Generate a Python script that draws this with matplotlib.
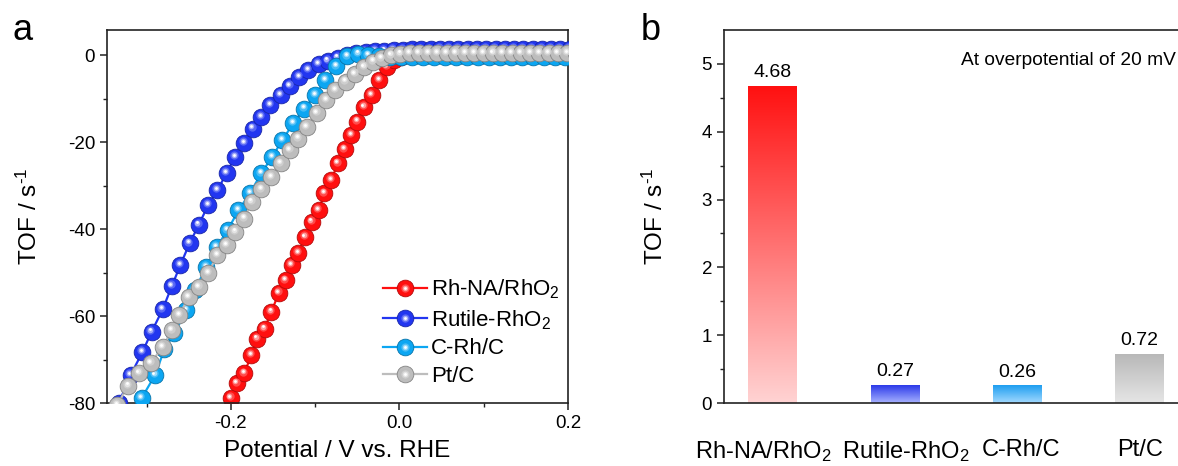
import numpy as np
import matplotlib
matplotlib.use("Agg")
import matplotlib.pyplot as plt
from matplotlib.lines import Line2D
from matplotlib.legend_handler import HandlerTuple
from matplotlib.transforms import offset_copy, ScaledTranslation
from matplotlib.colors import to_rgb

plt.rcParams["font.family"] = ["Liberation Sans", "DejaVu Sans"]
plt.rcParams["mathtext.fontset"] = "custom"
plt.rcParams["mathtext.rm"] = "Liberation Sans"
plt.rcParams["mathtext.it"] = "Liberation Sans:italic"
plt.rcParams["axes.unicode_minus"] = False

# ==================== (a) TOF 极化曲线 ====================
red_v = [-0.208, -0.200, -0.193, -0.184, -0.176, -0.169, -0.160, -0.152, -0.143, -0.135,
         -0.128, -0.120, -0.112, -0.104, -0.096, -0.089, -0.081, -0.073, -0.065, -0.057,
         -0.050, -0.042, -0.033, -0.024, -0.015, -0.006, 0.002, 0.010, 0.018, 0.026,
         0.034, 0.042, 0.050, 0.058, 0.066, 0.074, 0.082, 0.090, 0.098, 0.106,
         0.114, 0.122, 0.130, 0.138, 0.146, 0.154, 0.162, 0.170, 0.178, 0.186,
         0.194, 0.202]
red_tof = [-84.5, -78.8, -75.5, -73.2, -69.0, -65.2, -62.9, -59.0, -54.7, -51.8,
           -48.3, -45.5, -41.9, -38.3, -35.7, -31.8, -28.8, -24.9, -21.7, -18.4,
           -15.3, -11.9, -9.2, -5.8, -2.7, -1.2, -0.4, -0.1, 0.0, 0.0,
           0.0, 0.0, 0.0, 0.0, 0.0, 0.0, 0.0, 0.0, 0.0, 0.0,
           0.0, 0.0, 0.0, 0.0, 0.0, 0.0, 0.0, 0.0, 0.0, 0.0,
           0.0, 0.0]

blue_v = [-0.344, -0.333, -0.319, -0.305, -0.294, -0.281, -0.270, -0.260, -0.249, -0.238,
          -0.227, -0.216, -0.205, -0.195, -0.184, -0.174, -0.164, -0.153, -0.141, -0.130,
          -0.119, -0.108, -0.096, -0.085, -0.073, -0.062, -0.051, -0.040, -0.029, -0.018,
          -0.007, 0.004, 0.015, 0.026, 0.037, 0.048, 0.059, 0.070, 0.081, 0.092,
          0.103, 0.114, 0.125, 0.136, 0.147, 0.158, 0.169, 0.180, 0.191, 0.202]
blue_tof = [-85.0, -80.0, -73.6, -68.3, -63.6, -58.5, -53.1, -48.3, -43.3, -39.0,
            -34.5, -31.1, -27.1, -23.4, -20.2, -16.9, -14.2, -11.5, -9.2, -7.1,
            -5.1, -3.5, -2.1, -1.3, -0.6, 0.0, 0.4, 0.7, 0.9, 1.0,
            1.1, 1.2, 1.3, 1.3, 1.3, 1.4, 1.4, 1.4, 1.4, 1.4,
            1.4, 1.4, 1.4, 1.4, 1.4, 1.4, 1.4, 1.4, 1.4, 1.4]

cyan_v = [-0.318, -0.306, -0.290, -0.279, -0.267, -0.253, -0.243, -0.229, -0.217, -0.204,
          -0.191, -0.177, -0.164, -0.151, -0.139, -0.126, -0.113, -0.100, -0.088, -0.075,
          -0.062, -0.049, -0.037, -0.024, -0.011, 0.002, 0.015, 0.028, 0.041, 0.054,
          0.067, 0.080, 0.093, 0.106, 0.119, 0.132, 0.145, 0.158, 0.171, 0.184,
          0.197, 0.210]
cyan_tof = [-83.5, -78.9, -73.6, -67.7, -64.0, -58.7, -54.1, -48.7, -44.2, -40.3,
            -35.7, -31.7, -27.2, -23.4, -19.6, -15.7, -12.3, -9.2, -5.8, -2.6,
            -0.3, 0.3, -0.1, -0.3, -0.4, -0.4, -0.4, -0.4, -0.4, -0.4,
            -0.4, -0.4, -0.4, -0.4, -0.4, -0.4, -0.4, -0.4, -0.4, -0.4,
            -0.4, -0.4]

gray_v = [-0.335, -0.322, -0.309, -0.295, -0.281, -0.270, -0.261, -0.250, -0.238, -0.227,
          -0.216, -0.205, -0.195, -0.184, -0.175, -0.164, -0.152, -0.141, -0.130, -0.120,
          -0.110, -0.098, -0.087, -0.076, -0.064, -0.053, -0.042, -0.031, -0.021, -0.010,
          0.001, 0.012, 0.023, 0.034, 0.045, 0.056, 0.067, 0.078, 0.089, 0.100,
          0.111, 0.122, 0.133, 0.144, 0.155, 0.166, 0.177, 0.188, 0.199, 0.210]
gray_tof = [-80.5, -76.0, -73.1, -70.8, -67.1, -63.3, -59.8, -55.6, -53.3, -50.1,
            -46.0, -43.7, -40.6, -37.6, -33.7, -30.9, -28.0, -24.9, -21.9, -19.2,
            -16.5, -13.4, -10.4, -8.1, -6.1, -4.4, -2.7, -1.5, -0.8, -0.1,
            0.3, 0.4, 0.4, 0.4, 0.4, 0.4, 0.4, 0.4, 0.4, 0.4,
            0.4, 0.4, 0.4, 0.4, 0.4, 0.4, 0.4, 0.4, 0.4, 0.4]

series_labels = ["Rh-NA/RhO$_2$", "Rutile-RhO$_2$", "C-Rh/C", "Pt/C"]
series_colors = ["#FF0F0F", "#2236F0", "#0CA6F2", "#BDBDBD"]

# ==================== (b) 20 mV 过电位下的 TOF ====================
bar_names = ["Rh-NA/RhO$_2$", "Rutile-RhO$_2$", "C-Rh/C", "Pt/C"]
bar_tof = [4.68, 0.27, 0.26, 0.72]
bar_top = ["#FF1010", "#2433E8", "#1E9EF0", "#B8B8B8"]
bar_bottom = ["#FFD3D3", "#A8B2FF", "#A2D9FF", "#E6E6E6"]

MS = 12.0


def mix(c, other, t):
    c = np.array(to_rgb(c))
    o = np.array(to_rgb(other))
    return tuple(c + (o - c) * t)


# 高光层：(尺寸, 向白色混合比例, 偏移 pt)
HL = [(6.0, 0.25, 1.3), (3.9, 0.6, 1.5), (2.0, 1.0, 1.6)]


def draw_balls(ax, x, y, color, z):
    # 带高光的小球 + 连线
    dark = mix(color, "black", 0.3)
    ax.plot(x, y, "-", color=color, lw=1.6, zorder=z)
    ax.plot(x, y, "o", ms=MS, mfc=color, mec=dark, mew=0.6, ls="none", zorder=z + 0.1)
    for size, t, d in HL:
        tr = offset_copy(ax.transData, fig=ax.figure, x=-0.7 * d, y=d, units="points")
        ax.plot(x, y, "o", ms=size, mfc=mix(color, "white", t), mec="none",
                ls="none", transform=tr, zorder=z + 0.2)


def ball_handle(color):
    dark = mix(color, "black", 0.3)
    parts = [Line2D([], [], color=color, lw=1.6, marker="o", ms=MS, mfc=color, mec=dark, mew=0.6)]
    for size, t, d in HL:
        parts.append(Line2D([], [], ls="none", marker="o", ms=size,
                            mfc=mix(color, "white", t), mec="none"))
    return tuple(parts)


fig = plt.figure(figsize=(11.78, 4.66), dpi=100)
W, H = 1178, 466
ax1 = fig.add_axes([107 / W, 63 / H, 461 / W, 373 / H])
ax2 = fig.add_axes([724 / W, 63 / H, 464 / W, 373 / H])

for ax in (ax1, ax2):
    for s in ax.spines.values():
        s.set_linewidth(1.2)
        s.set_color("#222222")

# ---- 面板 a ----
curves = [(red_v, red_tof), (blue_v, blue_tof), (cyan_v, cyan_tof), (gray_v, gray_tof)]
for i, ((v, tof), col) in enumerate(zip(curves, series_colors)):
    draw_balls(ax1, v, tof, col, 2 + i)

ax1.set_xlim(-0.347, 0.2)
ax1.set_ylim(-80, 5.75)
ax1.set_xticks([-0.2, 0.0, 0.2])
ax1.set_xticks([-0.3, -0.1, 0.1], minor=True)
ax1.set_yticks([-80, -60, -40, -20, 0])
ax1.set_yticks([-70, -50, -30, -10], minor=True)
ax1.xaxis.set_major_formatter(matplotlib.ticker.FormatStrFormatter("%.1f"))
ax1.tick_params(axis="both", which="major", direction="out", length=5, width=1.1,
                labelsize=13.5, color="#222222")
ax1.tick_params(axis="both", which="minor", direction="out", length=3, width=1.0, color="#222222")
ax1.tick_params(top=False, right=False, which="both")
ax1.set_xlabel("Potential / V vs. RHE", fontsize=17.5, labelpad=6)
ax1.set_ylabel(r"TOF / s$^{\text{-}1}$", fontsize=17.5, labelpad=19)

handles = [ball_handle(c) for c in series_colors]
leg = ax1.legend(handles, series_labels, loc="lower right", bbox_to_anchor=(1.02, -0.005),
                 frameon=False, fontsize=16, handlelength=2.0, handletextpad=0.15,
                 labelspacing=0.3, borderpad=0.3,
                 handler_map={tuple: HandlerTuple(ndivide=1, pad=0)})

# ---- 面板 b ----
xpos = np.arange(1, len(bar_tof) + 1)
bars = ax2.bar(xpos, bar_tof, width=0.4, color="none", edgecolor="none", zorder=2)
grad = np.linspace(0, 1, 256)[:, None]
for rect, c_top, c_bot in zip(bars, bar_top, bar_bottom):
    lo = np.array(to_rgb(c_bot))
    hi = np.array(to_rgb(c_top))
    img = (lo + (hi - lo) * grad)[:, None, :].repeat(2, axis=1)
    x0 = rect.get_x()
    im = ax2.imshow(img, extent=[x0, x0 + rect.get_width(), 0, rect.get_height()],
                    origin="lower", aspect="auto", zorder=2, interpolation="bilinear")
    im.set_clip_path(rect)

for x, v in zip(xpos, bar_tof):
    ax2.text(x, v + 0.07, f"{v:.2f}", ha="center", va="bottom", fontsize=14)

ax2.set_xlim(0.6, 4.4)
ax2.set_ylim(0, 5.5)
ax2.set_xticks(xpos, bar_names)
ax2.set_yticks([0, 1, 2, 3, 4, 5])
ax2.set_yticks(np.arange(0.5, 5.5, 1.0), minor=True)
ax2.tick_params(axis="x", length=0, pad=26, labelsize=17)
ax2.tick_params(axis="y", which="major", direction="out", length=5, width=1.1,
                labelsize=13.5, color="#222222")
ax2.tick_params(axis="y", which="minor", direction="out", length=3, width=1.0, color="#222222")
# 类别标签左右微调，避免相互挤在一起
for lbl, dx in zip(ax2.get_xticklabels(), [-10, 11, 4, 1]):
    lbl.set_transform(lbl.get_transform() + ScaledTranslation(dx / 100, 0, fig.dpi_scale_trans))
ax2.set_ylabel(r"TOF / s$^{\text{-}1}$", fontsize=17.5, labelpad=24)
ax2.annotate("At overpotential of 20 mV", xy=(0.998, 5.05),
             xycoords=("figure fraction", "data"), ha="right", va="center", fontsize=13.8)

fig.text(13 / W, 1 - 40 / H, "a", fontsize=26, va="baseline")
fig.text(641 / W, 1 - 40 / H, "b", fontsize=26, va="baseline")

fig.savefig("out.png", dpi=100)
